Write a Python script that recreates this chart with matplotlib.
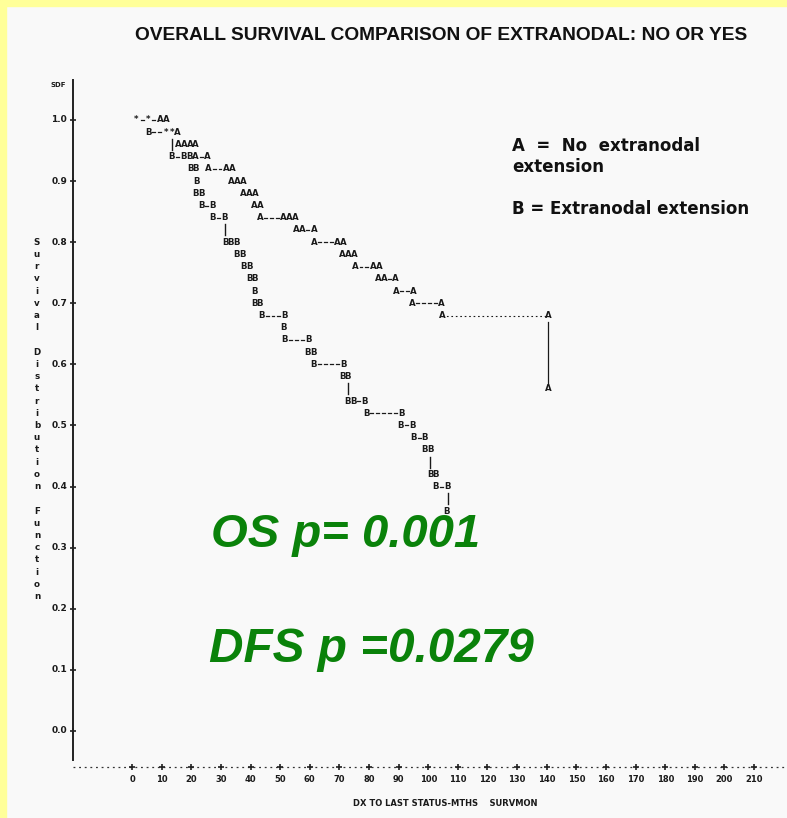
import matplotlib.pyplot as plt
from matplotlib.patches import Rectangle

# Printer-plot rows: survival value, month of first character, characters
# (one character = 2 months, one row = 0.02)
both_sdf = [1.00, 0.98, 0.96, 0.94]
both_start = [1.4, 5.4, 13.5, 13.5]
both_text = ["*-*-AA", "B--**A", "|AAAA", "B-BBA-A"]

a_sdf = [0.92, 0.90, 0.88, 0.86, 0.84, 0.82, 0.80, 0.78, 0.76, 0.74, 0.72, 0.70]
a_start = [25.7, 33.4, 37.5, 41.2, 43.2, 55.4, 61.4, 70.9, 75.3, 83.0, 89.1, 94.5]
a_text = ["A--AA", "AAA", "AAA", "AA", "A---AAA", "AA-A", "A---AA", "AAA",
          "A--AA", "AA-A", "A--A", "A----A"]

# last censored stretch of curve A
a_tail_months = [104.7, 140.4, 140.4]
a_tail_sdf = [0.68, 0.68, 0.56]

b_sdf = [0.92, 0.90, 0.88, 0.86, 0.84, 0.82, 0.80, 0.78, 0.76, 0.74, 0.72,
         0.70, 0.68, 0.66, 0.64, 0.62, 0.60, 0.58, 0.56, 0.54, 0.52, 0.50,
         0.48, 0.46, 0.44, 0.42, 0.40, 0.38, 0.36]
b_start = [19.6, 21.9, 21.6, 23.3, 27.3, 31.4, 31.4, 35.4, 37.8, 39.5, 41.5,
           41.2, 43.6, 51.3, 51.5, 59.4, 61.4, 70.9, 73.0, 72.6, 79.0, 90.8,
           94.9, 98.9, 100.6, 100.6, 102.6, 106.7, 106.3]
b_text = ["BB", "B", "BB", "B-B", "B-B", "|", "BBB", "BB", "BB", "BB", "B",
          "BB", "B---B", "B", "B---B", "BB", "B----B", "BB", "|", "BB-B",
          "B-----B", "B-B", "B-B", "BB", "|", "BB", "B-B", "|", "B"]

y_ticks = [0.0, 0.1, 0.2, 0.3, 0.4, 0.5, 0.6, 0.7, 0.8, 0.9, 1.0]
x_ticks = list(range(0, 220, 10))
y_label = "Survival Distribution Function"

W, H = 787, 818
fig = plt.figure(figsize=(W / 100, H / 100), dpi=100, facecolor='#f9f9f9')
fig.patches.append(Rectangle((0, 0), 6 / W, 1, transform=fig.transFigure,
                             color='#ffff99', zorder=0))
fig.patches.append(Rectangle((0, 1 - 6 / H), 1, 6 / H, transform=fig.transFigure,
                             color='#ffff99', zorder=0))

ax = fig.add_axes([0, 0, 1, 1])
ax.set_xlim(-44.56, 221.1)
ax.set_ylim(-0.1424, 1.1964)
ax.axis('off')
ax.patch.set_alpha(0)

ink = '#1a1a1a'
pfont = dict(family='DejaVu Sans', fontweight='bold', fontsize=6.2,
             color=ink, ha='center', va='center')


def print_row(sdf, start, chars):
    for i, ch in enumerate(chars):
        if ch == ' ':
            continue
        x = start + 2 * i
        if ch == '|':
            ax.plot([x, x], [sdf - 0.009, sdf + 0.009], color=ink, lw=1.0)
        elif ch == '-':
            ax.plot([x - 0.5, x + 0.5], [sdf, sdf], color=ink, lw=0.9)
        else:
            ax.text(x, sdf, ch, **pfont)


for s, x0, t in zip(both_sdf, both_start, both_text):
    print_row(s, x0, t)
for s, x0, t in zip(a_sdf, a_start, a_text):
    print_row(s, x0, t)
for s, x0, t in zip(b_sdf, b_start, b_text):
    print_row(s, x0, t)

# censored tail of curve A
ax.plot(a_tail_months[:2], a_tail_sdf[:2], color=ink, lw=0.8, ls=(0, (1.5, 2.5)))
ax.plot(a_tail_months[1:], [a_tail_sdf[1] - 0.01, a_tail_sdf[2] + 0.01],
        color=ink, lw=0.9)
for x, s in zip(a_tail_months, a_tail_sdf):
    ax.text(x, s, 'A', **pfont)

# vertical axis
ax.plot([-20, -20], [-0.047, 1.065], color='#222222', lw=1.4)
ax.plot([-20] * len(y_ticks), y_ticks, ls='none', marker='+', ms=5,
        mew=1.2, color='#222222')
for v in y_ticks:
    ax.text(-21.9, v, f'{v:.1f}', ha='right', va='center', fontsize=6.5,
            fontweight='bold', color=ink)
ax.text(-22.3, 1.057, 'SDF', ha='right', va='center', fontsize=5,
        fontweight='bold', color=ink)
for i, ch in enumerate(y_label):
    if ch != ' ':
        ax.text(-32.1, 0.80 - 0.02 * i, ch, ha='center', va='center',
                fontsize=6.3, fontweight='bold', color=ink)

# horizontal axis
ax.plot([-20, 221], [-0.059, -0.059], color='#333333', lw=0.9, ls=(0, (1.5, 3)))
ax.plot(x_ticks, [-0.059] * len(x_ticks), ls='none', marker='+', ms=4.5,
        mew=1.2, color='#222222')
for v in x_ticks:
    ax.text(v, -0.0786, str(v), ha='center', va='center', fontsize=6,
            fontweight='bold', color=ink)
ax.text(105.7, -0.118, 'DX TO LAST STATUS-MTHS    SURVMON', ha='center',
        va='center', fontsize=6.0, fontweight='bold', color=ink)

# title and legend
fig.text(441 / W, 1 - 35 / H, 'OVERALL SURVIVAL COMPARISON OF EXTRANODAL: NO OR YES',
         ha='center', va='center', fontsize=13.8, fontweight='bold',
         family='Liberation Sans', color='#111111')
lfont = dict(ha='left', va='baseline', fontsize=12, fontweight='bold',
             family='DejaVu Sans', color='#111111')
fig.text(512 / W, 1 - 151 / H, 'A  =  No  extranodal', **lfont)
fig.text(512 / W, 1 - 172 / H, 'extension', **lfont)
fig.text(512 / W, 1 - 214 / H, 'B = Extranodal extension', **lfont)

# p-values
gfont = dict(ha='left', va='baseline', fontweight='bold', style='italic',
             family='Liberation Sans', color='#0a820a')
fig.text(211 / W, 1 - 547 / H, 'OS p= 0.001', fontsize=34, **gfont)
fig.text(209 / W, 1 - 662 / H, 'DFS p =0.0279', fontsize=34.4, **gfont)

fig.savefig('out.png', dpi=100, facecolor=fig.get_facecolor())
